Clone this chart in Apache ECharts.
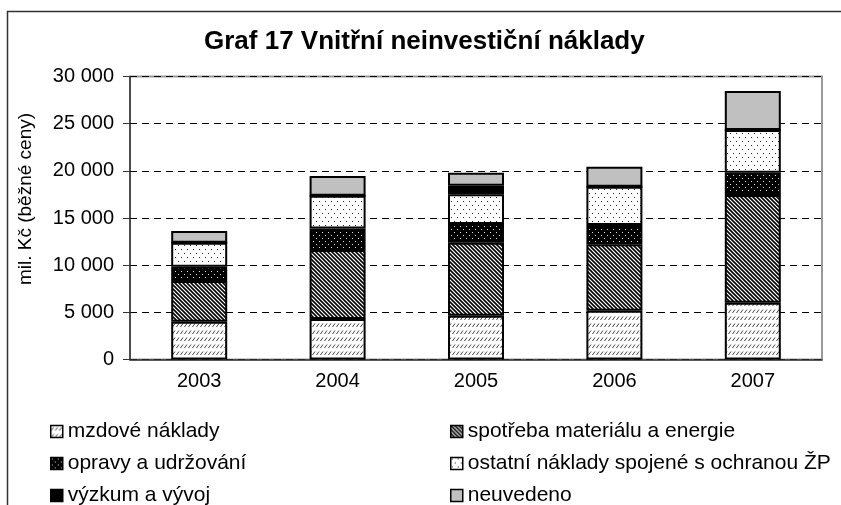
<!DOCTYPE html>
<html>
<head>
<meta charset="utf-8">
<script src="https://cdn.jsdelivr.net/npm/echarts@6/dist/echarts.min.js"></script>
<style>
  html, body { margin: 0; padding: 0; background: #fff; }
  #chart { width: 841px; height: 505px; }
</style>
</head>
<body>
<div id="chart"></div>
<script>
// data (mil. Kč)
var years = ['2003', '2004', '2005', '2006', '2007'];
var mzdove = [4010, 4290, 4640, 5170, 6020];
var spotreba = [4310, 7310, 7740, 7040, 11420];
var opravy = [1520, 2300, 1980, 2050, 2360];
var ostatni = [2540, 3470, 3150, 4060, 4530];
var vyzkum = [0, 0, 910, 0, 0];
var neuvedeno = [1240, 2080, 1380, 2120, 4130];
var yTicks = [0, 5000, 10000, 15000, 20000, 25000, 30000];

var names = ['mzdové náklady', 'spotřeba materiálu a energie', 'opravy a udržování',
  'ostatní náklady spojené s ochranou ŽP', 'výzkum a vývoj', 'neuvedeno'];

// small canvas tiles for the hatch fills
function pattern(w, h, draw) {
  var c = document.createElement('canvas');
  c.width = w; c.height = h;
  var ctx = c.getContext('2d');
  draw(ctx);
  return { image: c, repeat: 'repeat' };
}

var patSlash = pattern(4, 7, function(ctx) {
  ctx.fillStyle = '#fff'; ctx.fillRect(0, 0, 4, 7);
  ctx.strokeStyle = '#444'; ctx.lineWidth = 1;
  ctx.beginPath(); ctx.moveTo(0.5, 5); ctx.lineTo(3, 1.5); ctx.stroke();
});
var patDiag = pattern(4, 4, function(ctx) {
  ctx.fillStyle = '#fff'; ctx.fillRect(0, 0, 4, 4);
  ctx.strokeStyle = '#000'; ctx.lineWidth = 1.6;
  ctx.beginPath();
  ctx.moveTo(-1, -1); ctx.lineTo(5, 5);
  ctx.moveTo(-1, 3); ctx.lineTo(1, 5);
  ctx.moveTo(3, -1); ctx.lineTo(5, 1);
  ctx.stroke();
});
var patDarkDots = pattern(6, 6, function(ctx) {
  ctx.fillStyle = '#000'; ctx.fillRect(0, 0, 6, 6);
  ctx.fillStyle = '#ddd';
  ctx.fillRect(1, 1, 1, 1); ctx.fillRect(4, 4, 1, 1);
});
var patLightDots = pattern(6, 8, function(ctx) {
  ctx.fillStyle = '#fff'; ctx.fillRect(0, 0, 6, 8);
  ctx.fillStyle = '#222';
  ctx.fillRect(1, 1, 1, 1); ctx.fillRect(4, 5, 1, 1);
});

var fills = [patSlash, patDiag, patDarkDots, patLightDots, '#000', '#c0c0c0'];
var values = [mzdove, spotreba, opravy, ostatni, vyzkum, neuvedeno];

var series = names.map(function(n, i) {
  return {
    name: n,
    type: 'bar',
    stack: 'total',
    barWidth: 56,
    itemStyle: { color: fills[i], borderColor: '#000', borderWidth: 2 },
    data: values[i]
  };
});

var legendBase = {
  orient: 'vertical',
  top: 421,
  height: 120,
  padding: 0,
  icon: 'rect',
  itemWidth: 12,
  itemHeight: 12,
  itemGap: 11,
  selectedMode: false,
  itemStyle: { borderWidth: 1.5, borderColor: '#000' },
  textStyle: { fontFamily: 'Liberation Sans, Arial', fontSize: 21, color: '#000', lineHeight: 20 }
};

var myChart = echarts.init(document.getElementById('chart'), null, { renderer: 'canvas' });
myChart.setOption({
  backgroundColor: '#fff',
  animation: false,
  title: {
    text: 'Graf 17 Vnitřní neinvestiční náklady',
    left: 204,
    top: 29,
    padding: 0,
    textStyle: { fontFamily: 'Liberation Sans, Arial', fontSize: 26, fontWeight: 'bold', color: '#000' }
  },
  grid: {
    left: 130, right: 19, top: 76.5, bottom: 145.5,
    show: true, borderColor: '#999', borderWidth: 2
  },
  legend: [
    Object.assign({}, legendBase, { left: 50, data: [names[0], names[2], names[4]] }),
    Object.assign({}, legendBase, { left: 450, data: [names[1], names[3], names[5]] })
  ],
  xAxis: {
    type: 'category',
    data: years,
    axisLine: { lineStyle: { color: '#333', width: 1.5 } },
    axisTick: { length: 6, lineStyle: { color: '#333' } },
    axisLabel: { fontFamily: 'Liberation Sans, Arial', fontSize: 20, color: '#000', margin: 12 }
  },
  yAxis: {
    type: 'value',
    min: yTicks[0],
    max: yTicks[yTicks.length - 1],
    interval: 5000,
    axisLine: { show: true, lineStyle: { color: '#333', width: 1.5 } },
    axisTick: { show: true, length: 7, lineStyle: { color: '#333' } },
    axisLabel: {
      fontFamily: 'Liberation Sans, Arial', fontSize: 20, color: '#000', margin: 16,
      formatter: function(v) { return String(v).replace(/\B(?=(\d{3})+(?!\d))/g, ' '); }
    },
    splitLine: { lineStyle: { color: '#000', type: [7, 5], width: 1 } }
  },
  graphic: [
    {
      type: 'rect',
      shape: { x: 7.5, y: 11.5, width: 1000, height: 1000 },
      style: { fill: null, stroke: '#333', lineWidth: 1.5 },
      silent: true
    },
    {
      type: 'text',
      x: 26, y: 199,
      rotation: Math.PI / 2,
      style: {
        text: 'mil. Kč (běžné ceny)',
        font: '19px "Liberation Sans", Arial',
        fill: '#000',
        align: 'center',
        verticalAlign: 'middle'
      }
    }
  ],
  series: series
});
</script>
</body>
</html>
